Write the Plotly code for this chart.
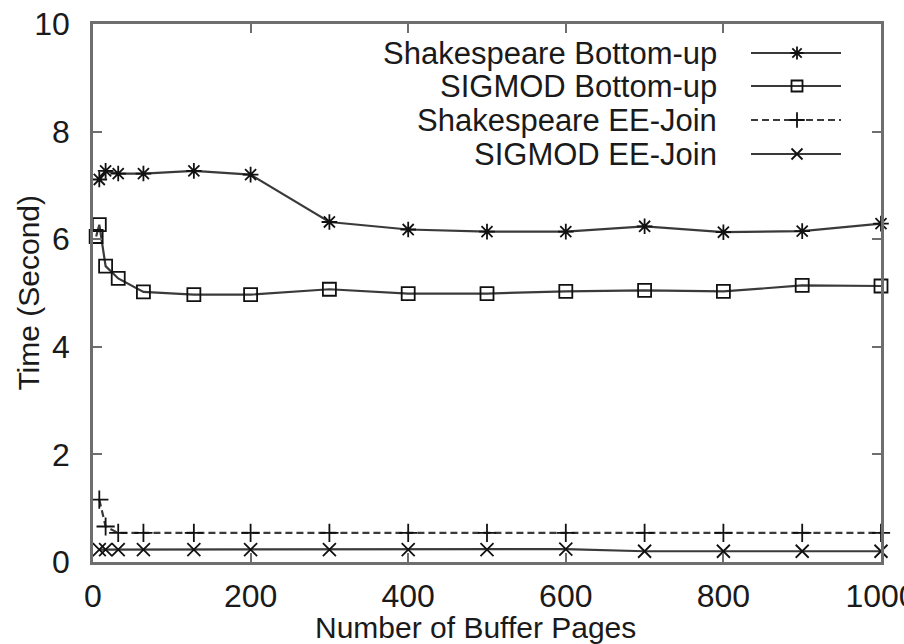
import plotly.graph_objects as go

# ---- data ----
x_main = [8, 16, 32, 64, 128, 200, 300, 400, 500, 600, 700, 800, 900, 1000]
x_sig_bu = [4, 8, 16, 32, 64, 128, 200, 300, 400, 500, 600, 700, 800, 900, 1000]

shakespeare_bu = [7.11, 7.27, 7.22, 7.22, 7.27, 7.20, 6.32, 6.18, 6.14, 6.14, 6.24, 6.13, 6.15, 6.29]
sigmod_bu = [6.05, 6.27, 5.50, 5.27, 5.02, 4.97, 4.97, 5.07, 4.99, 4.99, 5.03, 5.05, 5.03, 5.14, 5.13]
shakespeare_ee = [1.16, 0.66, 0.54, 0.54, 0.54, 0.54, 0.54, 0.54, 0.54, 0.54, 0.54, 0.54, 0.54, 0.54]
sigmod_ee = [0.23, 0.23, 0.23, 0.23, 0.23, 0.23, 0.23, 0.23, 0.23, 0.24, 0.20, 0.20, 0.20, 0.20]

series_names = ["Shakespeare Bottom-up", "SIGMOD Bottom-up", "Shakespeare EE-Join", "SIGMOD EE-Join"]
x_ticks = [0, 200, 400, 600, 800, 1000]
y_ticks = [0, 2, 4, 6, 8, 10]

FONT = "Liberation Sans, Arial, sans-serif"
LINE = "#3a3a3a"

styles = [
    dict(symbol="asterisk-open", dash="solid"),
    dict(symbol="square-open", dash="solid"),
    dict(symbol="cross-thin-open", dash="7px,4px"),
    dict(symbol="x-thin-open", dash="solid"),
]
data = [(x_main, shakespeare_bu), (x_sig_bu, sigmod_bu), (x_main, shakespeare_ee), (x_main, sigmod_ee)]

fig = go.Figure()
for (xs, ys), st, name in zip(data, styles, series_names):
    fig.add_trace(go.Scatter(
        x=xs, y=ys, mode="lines+markers", name=name, showlegend=False,
        line=dict(color=LINE, width=2.2, dash=st["dash"]),
        marker=dict(symbol=st["symbol"], size=13, color="#111",
                    line=dict(color="#111", width=1.8)),
        cliponaxis=False,
    ))

# ---- gnuplot-style key (text right-aligned, sample on the right) ----
key_rows = [53, 86, 120, 154]
for name, st, ry in zip(series_names, styles, key_rows):
    fig.add_trace(go.Scatter(
        x=[751, 797, 841], y=[ry, ry, ry], xaxis="x2", yaxis="y2",
        mode="lines", showlegend=False, hoverinfo="skip",
        line=dict(color=LINE, width=2, dash=st["dash"]),
    ))
    fig.add_trace(go.Scatter(
        x=[797], y=[ry], xaxis="x2", yaxis="y2",
        mode="markers", showlegend=False, hoverinfo="skip",
        marker=dict(symbol=st["symbol"], size=11, color="#111",
                    line=dict(color="#111", width=1.8)),
    ))
    fig.add_annotation(x=719, y=ry, xref="x2", yref="y2", text=name,
                       showarrow=False, xanchor="right", yanchor="middle",
                       font=dict(family=FONT, size=31, color="#1a1a1a"))

axis_common = dict(
    showgrid=False, zeroline=False, showline=True, linecolor="#6e6e6e",
    linewidth=2.5, mirror="ticks", ticks="inside", ticklen=9, tickwidth=2,
    tickcolor="#6e6e6e", tickfont=dict(family=FONT, size=32, color="#1a1a1a"),
    ticklabeloverflow="allow", automargin=False,
)

fig.update_layout(
    width=904, height=644,
    margin=dict(l=93, r=23, t=24, b=82, autoexpand=False),
    paper_bgcolor="white", plot_bgcolor="white",
    xaxis=dict(range=[0, 1000], tickvals=x_ticks, ticklabelstandoff=4, **axis_common),
    yaxis=dict(range=[0, 10], tickvals=y_ticks, ticklabelstandoff=14, **axis_common),
    xaxis2=dict(range=[93, 881], overlaying="x", visible=False, domain=[0, 1]),
    yaxis2=dict(range=[562, 24], overlaying="y", visible=False),
)

fig.add_annotation(x=0.4848, y=-0.122, xref="paper", yref="paper",
                   xanchor="center", yanchor="middle",
                   text="Number of Buffer Pages", showarrow=False,
                   font=dict(family=FONT, size=30, color="#1a1a1a"))
fig.add_annotation(x=-0.083, y=0.5, xref="paper", yref="paper", textangle=-90,
                   xanchor="center", yanchor="middle",
                   text="Time (Second)", showarrow=False,
                   font=dict(family=FONT, size=30, color="#1a1a1a"))

fig.write_html("out.html")
